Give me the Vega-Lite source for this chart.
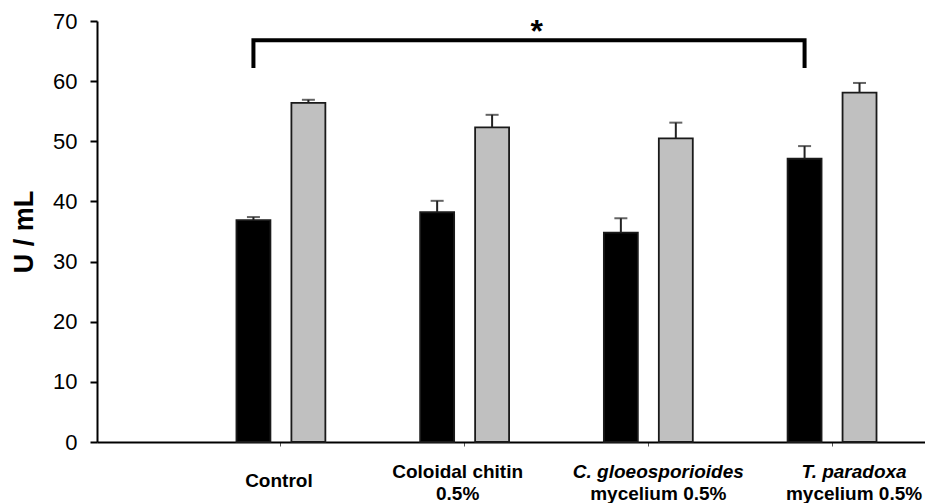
{
  "$schema": "https://vega.github.io/schema/vega-lite/v6.json",
  "width": 828,
  "height": 421,
  "autosize": {"type": "none"},
  "padding": {"left": 97, "top": 21, "right": 0, "bottom": 61},
  "background": "white",
  "config": {
    "view": {"stroke": null},
    "font": "Liberation Sans",
    "axisY": {
      "title": "U / mL", "titleFont": "Liberation Sans", "titleFontSize": 27, "titleFontWeight": "bold",
      "titleColor": "#000", "titlePadding": 14,
      "grid": false, "domainColor": "#000", "domainWidth": 2,
      "tickColor": "#000", "tickWidth": 2, "tickSize": 7,
      "labelFont": "Liberation Sans", "labelFontSize": 22, "labelColor": "#000", "labelPadding": 13
    }
  },
  "datasets": {
    "bars": [
      {"treatment": "Control", "series": "Series 1", "value": 36.9, "upper": 37.4},
      {"treatment": "Control", "series": "Series 2", "value": 56.4, "upper": 56.9},
      {"treatment": "Coloidal chitin|0.5%", "series": "Series 1", "value": 38.2, "upper": 40.1},
      {"treatment": "Coloidal chitin|0.5%", "series": "Series 2", "value": 52.3, "upper": 54.4},
      {"treatment": "C. gloeosporioides|mycelium 0.5%", "series": "Series 1", "value": 34.8, "upper": 37.2},
      {"treatment": "C. gloeosporioides|mycelium 0.5%", "series": "Series 2", "value": 50.5, "upper": 53.1},
      {"treatment": "T. paradoxa|mycelium 0.5%", "series": "Series 1", "value": 47.1, "upper": 49.2},
      {"treatment": "T. paradoxa|mycelium 0.5%", "series": "Series 2", "value": 58.1, "upper": 59.7}
    ],
    "bracket": [
      {"treatment": "Control", "series": "Series 1", "y": 62.2, "seq": 1},
      {"treatment": "Control", "series": "Series 1", "y": 66.8, "seq": 2},
      {"treatment": "T. paradoxa|mycelium 0.5%", "series": "Series 1", "y": 66.8, "seq": 3},
      {"treatment": "T. paradoxa|mycelium 0.5%", "series": "Series 1", "y": 62.2, "seq": 4}
    ],
    "star": [
      {"treatment": "Coloidal chitin|0.5%", "y": 66.5, "label": "*"}
    ]
  },
  "resolve": {"axis": {"x": "independent"}},
  "layer": [
    {
      "data": {"name": "bars"},
      "mark": {"type": "bar", "stroke": "#1a1a1a", "strokeWidth": 1.8},
      "encoding": {
        "x": {
          "field": "treatment", "type": "nominal",
          "scale": {
            "type": "band",
            "domain": ["Control", "Coloidal chitin|0.5%", "C. gloeosporioides|mycelium 0.5%", "T. paradoxa|mycelium 0.5%"],
            "paddingInner": 0.516, "paddingOuter": 0.5115, "align": 0.742
          },
          "axis": {
            "orient": "bottom", "title": null, "labelAngle": 0,
            "domainColor": "#000", "domainWidth": 2,
            "tickSize": 4, "tickColor": "#555", "tickWidth": 1,
            "labelExpr": "split(datum.value, '|')[0]",
            "labelFont": "Liberation Sans", "labelFontSize": 19, "labelFontWeight": "bold",
            "labelColor": "#000", "labelBaseline": "top",
            "labelPadding": {"condition": {"test": "datum.value == 'Control'", "value": 25}, "value": 16},
            "labelFontStyle": {"condition": {"test": "indexof(datum.value, 'mycelium') >= 0", "value": "italic"}, "value": "normal"},
            "labelOffset": {"condition": [
              {"test": "datum.value == 'Control'", "value": -2},
              {"test": "datum.value == 'Coloidal chitin|0.5%'", "value": -7},
              {"test": "datum.value == 'C. gloeosporioides|mycelium 0.5%'", "value": 10},
              {"test": "datum.value == 'T. paradoxa|mycelium 0.5%'", "value": 22}
            ], "value": 0},
            "labelOverlap": false, "labelLimit": 0, "labelFlush": false
          }
        },
        "xOffset": {
          "field": "series", "type": "nominal",
          "scale": {"domain": ["Series 1", "Series 2"], "paddingInner": 0.382, "paddingOuter": 0}
        },
        "y": {
          "field": "value", "type": "quantitative",
          "scale": {"domain": [0, 70], "nice": false, "zero": true},
          "axis": {"title": "U / mL", "values": [0, 10, 20, 30, 40, 50, 60, 70]}
        },
        "color": {
          "field": "series", "type": "nominal",
          "scale": {"domain": ["Series 1", "Series 2"], "range": ["#000000", "#c0c0c0"]},
          "legend": null
        }
      }
    },
    {
      "data": {"name": "bars"},
      "mark": {"type": "rule", "color": "#222", "strokeWidth": 2},
      "encoding": {
        "x": {
          "field": "treatment", "type": "nominal",
          "axis": {
            "orient": "bottom", "title": null, "labelAngle": 0,
            "domain": false, "ticks": false, "tickSize": 0,
            "labelExpr": "length(split(datum.value, '|')) > 1 ? split(datum.value, '|')[1] : ''",
            "labelFont": "Liberation Sans", "labelFontSize": 19, "labelFontWeight": "bold",
            "labelColor": "#000", "labelBaseline": "top", "labelPadding": 42,
            "labelOffset": {"condition": [
              {"test": "datum.value == 'Coloidal chitin|0.5%'", "value": -7},
              {"test": "datum.value == 'C. gloeosporioides|mycelium 0.5%'", "value": 10},
              {"test": "datum.value == 'T. paradoxa|mycelium 0.5%'", "value": 22}
            ], "value": 0},
            "labelOverlap": false, "labelLimit": 0, "labelFlush": false
          }
        },
        "xOffset": {"field": "series", "type": "nominal"},
        "y": {"field": "value", "type": "quantitative", "axis": {"title": "U / mL", "values": [0, 10, 20, 30, 40, 50, 60, 70]}},
        "y2": {"field": "upper"}
      }
    },
    {
      "data": {"name": "bars"},
      "mark": {"type": "tick", "color": "#222", "thickness": 2, "size": 13},
      "encoding": {
        "x": {"field": "treatment", "type": "nominal", "axis": null},
        "xOffset": {"field": "series", "type": "nominal"},
        "y": {"field": "upper", "type": "quantitative", "axis": {"title": "U / mL", "values": [0, 10, 20, 30, 40, 50, 60, 70]}}
      }
    },
    {
      "data": {"name": "bracket"},
      "mark": {"type": "line", "color": "#000", "strokeWidth": 4, "strokeJoin": "miter"},
      "encoding": {
        "x": {"field": "treatment", "type": "nominal", "axis": null},
        "xOffset": {"field": "series", "type": "nominal"},
        "y": {"field": "y", "type": "quantitative", "axis": {"title": "U / mL", "values": [0, 10, 20, 30, 40, 50, 60, 70]}},
        "order": {"field": "seq", "type": "quantitative"}
      }
    },
    {
      "data": {"name": "star"},
      "mark": {"type": "text", "fontSize": 32, "fontWeight": "bold", "font": "Liberation Sans", "color": "#000", "baseline": "alphabetic", "align": "center", "dx": 72},
      "encoding": {
        "x": {"field": "treatment", "type": "nominal", "axis": null},
        "y": {"field": "y", "type": "quantitative", "axis": {"title": "U / mL", "values": [0, 10, 20, 30, 40, 50, 60, 70]}},
        "text": {"field": "label"}
      }
    }
  ]
}
